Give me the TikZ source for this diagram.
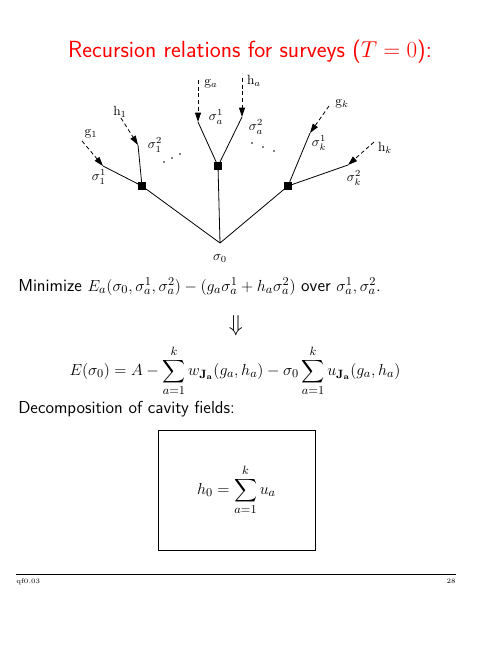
\documentclass[tikz,border=0pt]{standalone}
\usepackage{amsmath}
\usetikzlibrary{arrows.meta}
\renewcommand{\familydefault}{\sfdefault}

\begin{document}
\begin{tikzpicture}[x=0.75pt,y=-0.75pt,
  vertex/.style={fill=black,inner sep=0pt,minimum size=5.5pt},
  branch/.style={line width=0.6pt},
  field/.style={densely dashed,line width=0.6pt,-{Triangle[length=7pt,width=4.5pt]}},
  lbl/.style={font=\rmfamily\fontsize{10}{12}\selectfont,inner sep=0pt},
  body/.style={font=\fontsize{13}{15}\selectfont}]
  \useasboundingbox (0,0) rectangle (500,647);
  \node[text=red,font=\fontsize{17.5}{21}\selectfont,anchor=base] (title) at (250,57) {Recursion relations for surveys ($T=0$):};

  % tree
  \coordinate (s0) at (220,243);
  \node[vertex] (v1) at (142,186) {};
  \node[vertex] (va) at (218,166) {};
  \node[vertex] (vk) at (288,186) {};
  \coordinate (l11) at (103,166);
  \coordinate (l12) at (138,145);
  \coordinate (la1) at (198,122);
  \coordinate (la2) at (242,117);
  \coordinate (lk1) at (310,133);
  \coordinate (lk2) at (348,165);
  \coordinate (g1) at (82,141);
  \coordinate (h1) at (121,118);
  \coordinate (ga) at (198,80);
  \coordinate (ha) at (242,78);
  \coordinate (gk) at (329,106);
  \coordinate (hk) at (374,142);
  \draw[branch] (s0) -- (v1) (s0) -- (va) (s0) -- (vk);
  \draw[branch] (v1) -- (l11) (v1) -- (l12);
  \draw[branch] (va) -- (la1) (va) -- (la2);
  \draw[branch] (vk) -- (lk1) (vk) -- (lk2);
  \draw[field] (g1) -- (l11);
  \draw[field] (h1) -- (l12);
  \draw[field] (ga) -- (la1);
  \draw[field] (ha) -- (la2);
  \draw[field] (gk) -- (lk1);
  \draw[field] (hk) -- (lk2);
  \foreach \p in {(164,162),(172,158),(180,154),(252,143),(263,147),(274,151)}
    \fill \p circle (0.9);

  \node[lbl] (ls0) at (220,259) {$\sigma_0$};
  \node[lbl] (lg1) at (91,134) {g$_1$};
  \node[lbl] (lh1) at (120,112) {h$_1$};
  \node[lbl] (ls11) at (99,177) {$\sigma_1^1$};
  \node[lbl] (ls12) at (155,145) {$\sigma_1^2$};
  \node[lbl] (lga) at (211,84) {g$_a$};
  \node[lbl] (lha) at (254,81) {h$_a$};
  \node[lbl] (lsa1) at (216,117) {$\sigma_a^1$};
  \node[lbl] (lsa2) at (256,127) {$\sigma_a^2$};
  \node[lbl] (lgk) at (342,104) {g$_k$};
  \node[lbl] (lhk) at (385,148) {h$_k$};
  \node[lbl] (lsk1) at (319,143) {$\sigma_k^1$};
  \node[lbl] (lsk2) at (354,178) {$\sigma_k^2$};

  % formulas
  \node[body,anchor=base west,inner sep=0pt] (minim) at (18,291)
    {Minimize $E_a(\sigma_0,\sigma_a^1,\sigma_a^2)-(g_a\sigma_a^1+h_a\sigma_a^2)$ over $\sigma_a^1,\sigma_a^2$.};
  \node[body,font=\fontsize{16}{18}\selectfont] (imp) at (236,326) {$\Downarrow$};
  \node[body,font=\fontsize{12.6}{15}\selectfont] (eqE) at (235,371)
    {$\displaystyle E(\sigma_0)=A-\sum_{a=1}^{k}w_{\mathbf{J_a}}(g_a,h_a)-\sigma_0\sum_{a=1}^{k}u_{\mathbf{J_a}}(g_a,h_a)$};
  \node[body,anchor=base west,inner sep=0pt] (decomp) at (18,413) {Decomposition of cavity fields:};
  \node[body,font=\fontsize{12.6}{15}\selectfont,draw,line width=0.6pt,minimum width=117.75pt,minimum height=90pt] (box) at (236.5,490)
    {$\displaystyle h_0=\sum_{a=1}^{k}u_a$};

  % footer
  \coordinate (fl) at (16,574);
  \coordinate (fr) at (456,574);
  \draw[line width=0.5pt] (fl) -- (fr);
  \node[font=\rmfamily\fontsize{5}{6}\selectfont,anchor=north west,inner sep=0pt] (ftl) at (16,579) {qf0.03};
  \node[font=\rmfamily\fontsize{5}{6}\selectfont,anchor=north east,inner sep=0pt] (ftr) at (456,579) {28};
\end{tikzpicture}
\end{document}
